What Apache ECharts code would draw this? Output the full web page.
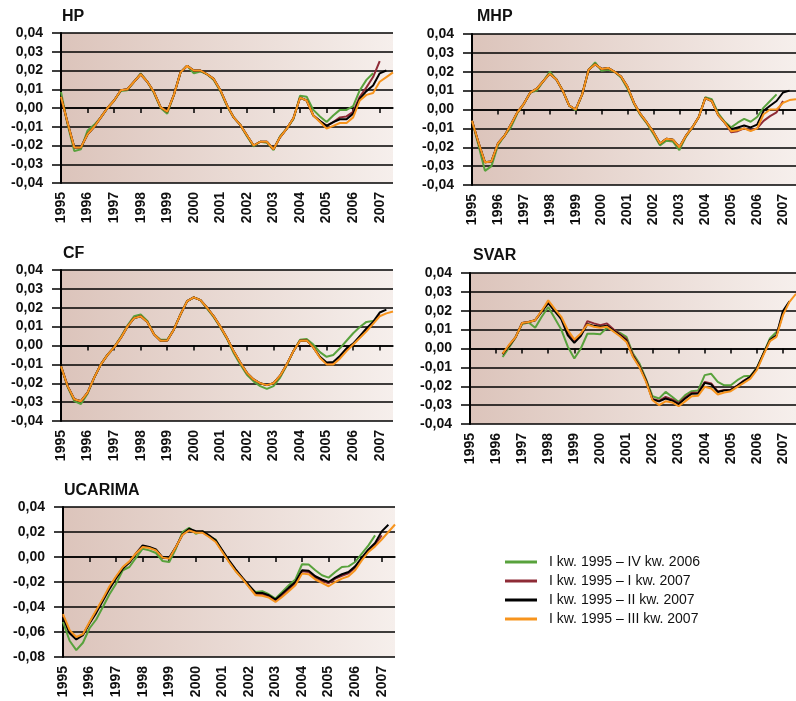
<!DOCTYPE html>
<html><head><meta charset="utf-8">
<script src="https://cdn.jsdelivr.net/npm/echarts@6/dist/echarts.min.js"></script>
<style>html,body{margin:0;padding:0;background:#fff}#c{width:796px;height:701px}</style>
</head><body><div id="c"></div>
<script>
const years = ['1995','1996','1997','1998','1999','2000','2001','2002','2003','2004','2005','2006','2007'];
const quarterNames = ['I','II','III','IV'];
const categories = [];
years.forEach(y => quarterNames.forEach(q => categories.push(q + ' kw. ' + y)));
categories.length = 51; // I kw. 1995 .. III kw. 2007

const seriesNames = ['I kw. 1995 – IV kw. 2006', 'I kw. 1995 – I kw. 2007', 'I kw. 1995 – II kw. 2007', 'I kw. 1995 – III kw. 2007'];
const seriesColors = ['#58a23c', '#8e2b36', '#000000', '#f7941d'];

// ---------- HP ----------
const hpGreen = [0.0085,-0.009,-0.023,-0.022, -0.012,-0.009,-0.005,0.000, 0.004,0.009,0.0095,0.014, 0.0185,0.014,0.008,0.000, -0.003,0.007,0.019,0.0225, 0.0185,0.0195,0.018,0.015, 0.009,0.001,-0.005,-0.009, -0.015,-0.0205,-0.018,-0.0185, -0.0225,-0.015,-0.011,-0.006, 0.0065,0.006,-0.001,-0.0045, -0.0075,-0.004,-0.001,-0.001, 0.001,0.0095,0.015,0.0185];
const hpRed = [0.006,-0.008,-0.021,-0.021, -0.014,-0.010,-0.005,0.000, 0.004,0.0095,0.010,0.014, 0.018,0.014,0.0085,0.0005, -0.002,0.007,0.019,0.0225, 0.020,0.020,0.018,0.0155, 0.0095,0.0015,-0.005,-0.009, -0.0145,-0.020,-0.018,-0.018, -0.022,-0.0155,-0.011,-0.0055, 0.0055,0.004,-0.004,-0.007, -0.0095,-0.0075,-0.005,-0.0045, -0.002,0.006,0.011,0.0165, 0.025];
const hpBlack = [0.006,-0.008,-0.021,-0.021, -0.014,-0.010,-0.005,0.000, 0.004,0.0095,0.010,0.014, 0.018,0.014,0.0085,0.0005, -0.002,0.007,0.019,0.0225, 0.020,0.020,0.018,0.0155, 0.0095,0.0015,-0.005,-0.009, -0.0145,-0.020,-0.018,-0.018, -0.022,-0.0155,-0.011,-0.0055, 0.0055,0.004,-0.004,-0.007, -0.0095,-0.0075,-0.006,-0.006, -0.003,0.005,0.009,0.012, 0.0185,0.020];
const hpOrange = [0.006,-0.008,-0.021,-0.021, -0.014,-0.010,-0.005,0.000, 0.004,0.0095,0.010,0.014, 0.018,0.014,0.0085,0.0005, -0.002,0.007,0.019,0.0225, 0.020,0.020,0.018,0.0155, 0.0095,0.0015,-0.005,-0.009, -0.0145,-0.020,-0.018,-0.018, -0.022,-0.0155,-0.011,-0.0055, 0.0055,0.004,-0.004,-0.0075, -0.011,-0.0095,-0.008,-0.008, -0.005,0.004,0.007,0.008, 0.014,0.0165,0.019];

// ---------- MHP ----------
const mhpGreen = [-0.006,-0.019,-0.0325,-0.030, -0.019,-0.014,-0.0095,-0.002, 0.003,0.009,0.010,0.015, 0.020,0.016,0.010,0.002, -0.0005,0.008,0.021,0.025, 0.0205,0.021,0.020,0.017, 0.011,0.003,-0.003,-0.0075, -0.013,-0.019,-0.0165,-0.017, -0.0215,-0.0145,-0.0095,-0.004, 0.0065,0.0055,-0.002,-0.0065, -0.0095,-0.007,-0.005,-0.0065, -0.004,0.001,0.0045,0.008];
const mhpRed = [-0.006,-0.0175,-0.028,-0.0275, -0.018,-0.014,-0.008,-0.0015, 0.003,0.009,0.011,0.015, 0.019,0.016,0.010,0.002, 0.000,0.008,0.021,0.024, 0.0215,0.022,0.020,0.0175, 0.012,0.0035,-0.0025,-0.007, -0.012,-0.018,-0.0155,-0.016, -0.020,-0.014,-0.0095,-0.004, 0.006,0.0045,-0.003,-0.007, -0.012,-0.0115,-0.010,-0.011, -0.010,-0.006,-0.0035,-0.0015, 0.0045];
const mhpBlack = [-0.006,-0.0175,-0.028,-0.0275, -0.018,-0.014,-0.008,-0.0015, 0.003,0.009,0.011,0.015, 0.019,0.016,0.010,0.002, 0.000,0.008,0.021,0.024, 0.0215,0.022,0.020,0.0175, 0.012,0.0035,-0.0025,-0.007, -0.012,-0.018,-0.0155,-0.016, -0.020,-0.014,-0.0095,-0.004, 0.006,0.0045,-0.003,-0.007, -0.0105,-0.0095,-0.0085,-0.0095, -0.008,-0.0007,0.002,0.0045, 0.009,0.010];
const mhpOrange = [-0.006,-0.0175,-0.028,-0.0275, -0.018,-0.014,-0.008,-0.0015, 0.003,0.009,0.011,0.015, 0.019,0.016,0.010,0.002, 0.000,0.008,0.021,0.024, 0.0215,0.022,0.020,0.0175, 0.012,0.0035,-0.0025,-0.007, -0.012,-0.018,-0.0155,-0.016, -0.020,-0.014,-0.0095,-0.004, 0.006,0.0045,-0.003,-0.007, -0.0115,-0.011,-0.010,-0.0115, -0.010,-0.0025,0.000,0.000, 0.0035,0.005,0.0055];

// ---------- CF ----------
const cfGreen = [-0.011,-0.022,-0.0295,-0.031, -0.0255,-0.017,-0.010,-0.005, -0.001,0.0045,0.0105,0.0155, 0.0165,0.013,0.006,0.003, 0.003,0.0085,0.0165,0.0235, 0.0255,0.024,0.0195,0.015, 0.0095,0.0035,-0.004,-0.010, -0.0155,-0.019,-0.0215,-0.023, -0.0215,-0.017,-0.0105,-0.003, 0.003,0.0035,0.0005,-0.0035, -0.006,-0.005,-0.0015,0.0025, 0.0065,0.0098,0.0125,0.013];
const cfRed = [-0.011,-0.0215,-0.0285,-0.0295, -0.025,-0.017,-0.010,-0.005, -0.001,0.004,0.010,0.0145, 0.0155,0.0125,0.006,0.0025, 0.0027,0.0085,0.0165,0.0235, 0.0255,0.024,0.020,0.0155, 0.010,0.004,-0.003,-0.009, -0.0145,-0.018,-0.020,-0.021, -0.020,-0.016,-0.010,-0.003, 0.0025,0.0027,-0.001,-0.0062, -0.0095,-0.0093,-0.006,-0.002, 0.0008,0.0045,0.0085,0.012, 0.0165];
const cfBlack = [-0.011,-0.0215,-0.0285,-0.0295, -0.025,-0.017,-0.010,-0.005, -0.001,0.004,0.010,0.0145, 0.0155,0.0125,0.006,0.0025, 0.0027,0.0085,0.0165,0.0235, 0.0255,0.024,0.020,0.0155, 0.010,0.004,-0.003,-0.009, -0.0145,-0.018,-0.020,-0.021, -0.020,-0.016,-0.010,-0.003, 0.0025,0.0027,-0.001,-0.006, -0.009,-0.0087,-0.0055,-0.0015, 0.001,0.005,0.009,0.0125, 0.0175,0.019];
const cfOrange = [-0.011,-0.0215,-0.0285,-0.0295, -0.025,-0.017,-0.010,-0.005, -0.001,0.004,0.010,0.0145, 0.0155,0.0125,0.006,0.0025, 0.0027,0.0085,0.0165,0.0235, 0.0255,0.024,0.020,0.0155, 0.010,0.004,-0.003,-0.009, -0.0145,-0.018,-0.020,-0.021, -0.020,-0.016,-0.010,-0.003, 0.0025,0.0027,-0.001,-0.0065, -0.010,-0.010,-0.007,-0.003, 0.0005,0.004,0.0075,0.0115, 0.0155,0.017,0.018];

// ---------- SVAR ----------
const svarGreen = [null,null,null,null, null,-0.0045,0.0005,0.006, 0.013,0.0138,0.011,0.0168, 0.022,0.016,0.010,0.001, -0.0053,0.000,0.0078,0.0078, 0.0076,0.011,0.0097,0.0083, 0.0062,-0.0027,-0.008,-0.0162, -0.0253,-0.0265,-0.023,-0.0256, -0.0283,-0.0247,-0.0226,-0.0222, -0.0141,-0.0134,-0.0177,-0.0195, -0.0195,-0.0168,-0.0147,-0.0145, -0.0102,-0.0027,0.0053,0.0088];
const svarRed = [null,null,null,null, null,-0.003,0.0015,0.006, 0.0135,0.014,0.015,0.0198, 0.0245,0.0202,0.016,0.008, 0.004,0.007,0.0145,0.0133, 0.0124,0.0133,0.0102,0.0075, 0.005,-0.0035,-0.0092,-0.0168, -0.0268,-0.0277,-0.0256,-0.027, -0.029,-0.026,-0.0235,-0.0235, -0.0177,-0.0185,-0.0228,-0.022, -0.0218,-0.0196,-0.017,-0.015, -0.0105,-0.003,0.0042,0.0068, 0.0186];
const svarBlack = [null,null,null,null, null,-0.003,0.0015,0.006, 0.0135,0.014,0.015,0.0195, 0.024,0.0198,0.0155,0.007, 0.003,0.0067,0.013,0.012, 0.0115,0.012,0.0095,0.007, 0.0042,-0.004,-0.0095,-0.017, -0.027,-0.028,-0.0265,-0.0276, -0.0295,-0.0265,-0.024,-0.0238, -0.0182,-0.019,-0.023,-0.0222, -0.022,-0.0198,-0.0173,-0.015, -0.0105,-0.0027,0.0044,0.007, 0.0198,0.025];
const svarOrange = [null,null,null,null, null,-0.0027,0.002,0.006, 0.0135,0.014,0.015,0.020, 0.0255,0.021,0.0168,0.0097, 0.0048,0.008,0.0127,0.0115, 0.011,0.0115,0.009,0.0065, 0.0035,-0.0045,-0.010,-0.0177, -0.0274,-0.030,-0.028,-0.0286, -0.0306,-0.028,-0.0253,-0.025, -0.0203,-0.0212,-0.0244,-0.0233, -0.0226,-0.0203,-0.0182,-0.016, -0.0114,-0.0035,0.0039,0.0062, 0.0177,0.0247,0.029];

// ---------- UCARIMA ----------
const ucGreen = [-0.052,-0.067,-0.0745,-0.0686, -0.057,-0.050,-0.040,-0.0298, -0.0213,-0.0106,-0.008,-0.0005, 0.0066,0.0053,0.0032,-0.0032, -0.004,0.0066,0.020,0.0234, 0.0186,0.0205,0.0165,0.0138, 0.0045,-0.0035,-0.011,-0.017, -0.0235,-0.028,-0.0274,-0.0298, -0.0332,-0.028,-0.0226,-0.018, -0.0058,-0.006,-0.0106,-0.0146, -0.0165,-0.012,-0.008,-0.0075, -0.004,0.0027,0.0093,0.0173];
const ucRed = [-0.047,-0.060,-0.065,-0.062, -0.0525,-0.0435,-0.034,-0.0245, -0.016,-0.0087,-0.004,0.003, 0.0088,0.0077,0.0057,-0.0005, -0.001,0.008,0.018,0.022, 0.020,0.020,0.0167,0.0127, 0.0047,-0.0033,-0.0105,-0.0168, -0.0232,-0.0295,-0.0298,-0.0315, -0.035,-0.0305,-0.026,-0.0212, -0.0114,-0.012,-0.0165,-0.019, -0.021,-0.0173,-0.015,-0.013, -0.0085,-0.0015,0.005,0.0098, 0.0173];
const ucBlack = [-0.048,-0.061,-0.066,-0.0625, -0.053,-0.0447,-0.035,-0.0255, -0.017,-0.0093,-0.0045,0.0027, 0.0093,0.008,0.006,-0.0005, -0.0005,0.008,0.018,0.0226, 0.0207,0.0207,0.0173,0.0133, 0.0053,-0.0027,-0.0098,-0.0165, -0.0226,-0.0287,-0.0287,-0.0306, -0.034,-0.0293,-0.0245,-0.020, -0.0106,-0.011,-0.0154,-0.018, -0.020,-0.0165,-0.0138,-0.012, -0.0075,-0.0005,0.006,0.0112, 0.0205,0.0258];
const ucOrange = [-0.0457,-0.0585,-0.064,-0.0617, -0.052,-0.0426,-0.0333,-0.0234, -0.0154,-0.008,-0.0035,0.003, 0.008,0.0072,0.0053,-0.0005, -0.0013,0.008,0.0178,0.0213, 0.0194,0.0194,0.016,0.012, 0.004,-0.004,-0.0114,-0.0173, -0.024,-0.0306,-0.031,-0.0325, -0.036,-0.032,-0.0274,-0.0226, -0.0133,-0.0138,-0.018,-0.0207, -0.0234,-0.020,-0.0173,-0.0154, -0.0106,-0.0027,0.004,0.0085, 0.014,0.020,0.026];

const panels = [
  {title:'HP',      left:61,  top:33,  height:150, min:-0.04, max:0.04, step:0.01, tx:62,  ty:18.5, data:[hpGreen,hpRed,hpBlack,hpOrange]},
  {title:'MHP',     left:472, top:34,  height:151, min:-0.04, max:0.04, step:0.01, tx:477, ty:18.5, data:[mhpGreen,mhpRed,mhpBlack,mhpOrange]},
  {title:'CF',      left:61,  top:270, height:151, min:-0.04, max:0.04, step:0.01, tx:63,  ty:256,  data:[cfGreen,cfRed,cfBlack,cfOrange]},
  {title:'SVAR',    left:470, top:273, height:151, min:-0.04, max:0.04, step:0.01, tx:473, ty:258,  data:[svarGreen,svarRed,svarBlack,svarOrange]},
  {title:'UCARIMA', left:63,  top:507, height:150, min:-0.08, max:0.04, step:0.02, tx:64,  ty:493,  data:[ucGreen,ucRed,ucBlack,ucOrange]}
];

const FONT = "'Liberation Sans', Arial, sans-serif";
const bg = {type:'linear', x:0, y:0, x2:1, y2:0, colorStops:[{offset:0, color:'#dcc4bb'},{offset:1, color:'#f6efec'}]};

const grids = [], xAxes = [], yAxes = [], series = [], graphics = [];
panels.forEach((p, gi) => {
  grids.push({left:p.left, top:p.top, width:332, height:p.height, show:true, backgroundColor:bg, borderWidth:0, containLabel:false});
  // labelled axis at bottom
  xAxes.push({type:'category', gridIndex:gi, data:categories, boundaryGap:false, position:'bottom',
    axisLine:{show:false, onZero:false}, axisTick:{show:false}, splitLine:{show:false},
    axisLabel:{show:true, rotate:90, margin:9, interval:(i)=>i%4===0, formatter:(v)=>v.slice(-4),
      fontFamily:FONT, fontWeight:'bold', fontSize:14, color:'#111'}});
  // axis on zero line with ticks
  xAxes.push({type:'category', gridIndex:gi, data:categories, boundaryGap:false, position:'bottom',
    axisLine:{show:true, onZero:true, lineStyle:{color:'#000', width:1.5}},
    axisTick:{show:true, interval:(i)=>i%4===0, length:5, lineStyle:{color:'#000', width:1.5}},
    axisLabel:{show:false}, splitLine:{show:false}});
  yAxes.push({type:'value', gridIndex:gi, min:p.min, max:p.max, interval:p.step,
    axisLine:{show:true, onZero:false, lineStyle:{color:'#000', width:2}},
    axisTick:{show:true, length:9, lineStyle:{color:'#000', width:1.5}},
    splitLine:{show:true, lineStyle:{color:'#000', width:1.5}},
    axisLabel:{margin:18, fontFamily:FONT, fontWeight:'bold', fontSize:14, color:'#111',
      formatter:(v)=>v.toFixed(2).replace('.', ',')}});
  p.data.forEach((d, si) => {
    series.push({name:seriesNames[si], type:'line', xAxisIndex:gi*2, yAxisIndex:gi, data:d,
      symbol:'none', showSymbol:false, connectNulls:false,
      lineStyle:{color:seriesColors[si], width:2}, itemStyle:{color:seriesColors[si]},
      z:2+si, animation:false});
  });
  graphics.push({type:'text', left:p.tx, top:p.ty-10, style:{text:p.title, font:"bold 16px " + FONT, fill:'#111'}});
});

const chart = echarts.init(document.getElementById('c'), null, {renderer:'canvas'});
chart.setOption({
  animation:false,
  backgroundColor:'#ffffff',
  grid:grids, xAxis:xAxes, yAxis:yAxes, series:series,
  graphic:graphics,
  legend:{data:seriesNames, orient:'vertical', left:505, top:555, padding:0, itemGap:5,
    itemWidth:32, itemHeight:3, icon:'rect',
    textStyle:{fontFamily:FONT, fontSize:14, color:'#111', padding:[0,0,0,7]}}
});
</script></body></html>
